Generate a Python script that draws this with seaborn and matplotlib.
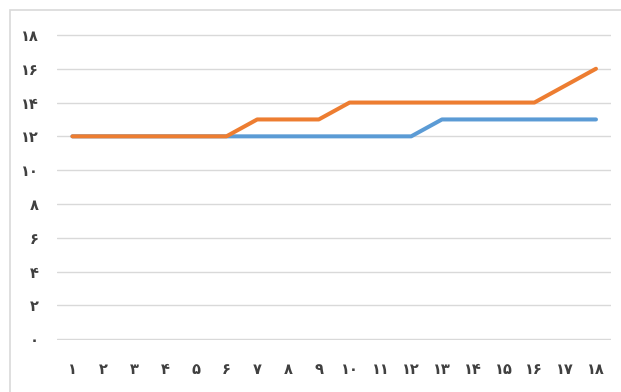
import matplotlib
matplotlib.use("Agg")
import matplotlib.pyplot as plt
import seaborn as sns
import pandas as pd
from matplotlib.patches import Rectangle

x_vals = list(range(1, 19))
series_blue = [12, 12, 12, 12, 12, 12, 12, 12, 12, 12, 12, 12, 13, 13, 13, 13, 13, 13]
series_orange = [12, 12, 12, 12, 12, 12, 13, 13, 13, 14, 14, 14, 14, 14, 14, 14, 15, 16]
y_ticks = list(range(0, 19, 2))

def fa(n):
    return str(n).translate(str.maketrans("0123456789", "۰۱۲۳۴۵۶۷۸۹"))

df = pd.DataFrame({
    "x": x_vals * 2,
    "y": series_blue + series_orange,
    "s": ["blue"] * len(x_vals) + ["orange"] * len(x_vals),
})

sns.set_theme(style="white")
plt.rcParams["font.family"] = ["DejaVu Sans"]

fig = plt.figure(figsize=(6.21, 3.92), dpi=100)
ax = fig.add_axes([0.0918, 0.1327, 0.8927, 0.7803])

sns.lineplot(data=df, x="x", y="y", hue="s", palette={"blue": "#5B9BD5", "orange": "#ED7D31"},
             linewidth=2.9, legend=False, ax=ax, solid_capstyle="round")

ax.set_xlim(0.5, 18.5)
ax.set_ylim(-0.05, 18.05)
ax.set_yticks(y_ticks)
ax.set_yticklabels([fa(v) for v in y_ticks])
ax.set_xticks(x_vals)
ax.set_xticklabels([fa(v) for v in x_vals])
ax.yaxis.grid(True, color="#d9d9d9", linewidth=1.0)
ax.set_axisbelow(True)
for sp in ax.spines.values():
    sp.set_visible(False)
ax.tick_params(axis="both", length=0, labelsize=10.5, colors="#404040")
ax.tick_params(axis="y", pad=13)
ax.tick_params(axis="x", pad=16)
for lab in ax.get_xticklabels() + ax.get_yticklabels():
    lab.set_fontweight("bold")
ax.set_xlabel("")
ax.set_ylabel("")

fig.patches.append(Rectangle((10 / 621, -0.01), 1.0, 1 - 10 / 392 + 0.01, transform=fig.transFigure,
                             fill=False, edgecolor="#d9d9d9", linewidth=1.2))

fig.savefig("out.png", dpi=100)
